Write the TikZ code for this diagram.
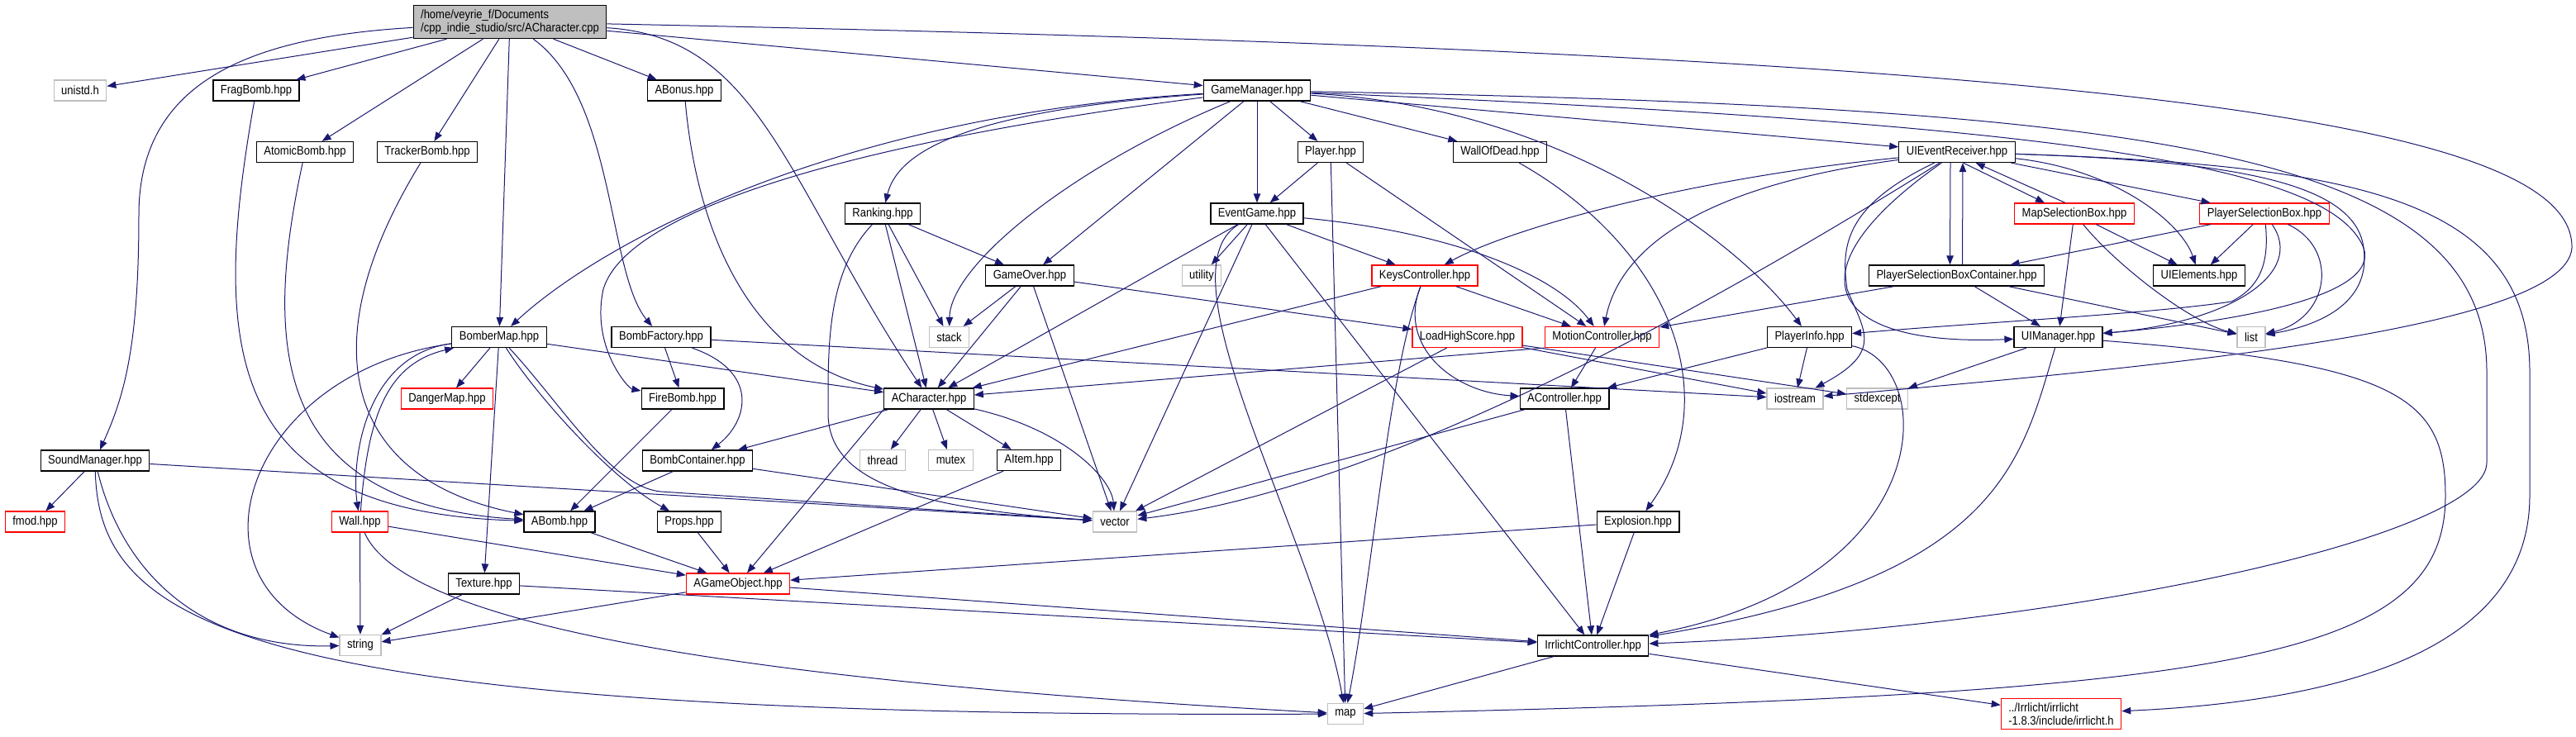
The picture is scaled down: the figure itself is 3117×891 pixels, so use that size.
\documentclass[tikz,border=0pt]{standalone}
\usepackage{fontspec}
\setmainfont{Liberation Sans}[FakeStretch=0.88]
\usepackage{tikz}
\usetikzlibrary{arrows.meta}
\definecolor{dxedge}{HTML}{191970}
\definecolor{dxgray}{HTML}{BFBFBF}

\begin{document}
\begin{tikzpicture}[
	x=0.5pt, y=-0.5pt,
	file/.style={draw=black, fill=white, line width=0.6pt, font=\fontsize{7.4}{8.2}\selectfont, inner xsep=4.5pt, inner ysep=2.5pt, minimum height=12.5pt},
	sys/.style={file, draw=dxgray},
	trunc/.style={file, draw=red},
	main/.style={file, fill=dxgray, align=left},
	arr/.style={-{Triangle[length=5.5pt, width=4.2pt]}, draw=dxedge, line width=0.5pt}
	]
	\useasboundingbox (0,0) rectangle (3117,891);

	\node[main] (cpp) at (617,26.5) {/home/veyrie\_f/Documents\\/cpp\_indie\_studio/src/ACharacter.cpp};
	\node[sys] (unistd) at (97,109.5) {unistd.h};
	\node[file] (frag) at (310,109.5) {FragBomb.hpp};
	\node[file] (bonus) at (828,109.5) {ABonus.hpp};
	\node[file] (gm) at (1521,109.5) {GameManager.hpp};
	\node[file] (atomic) at (369,184) {AtomicBomb.hpp};
	\node[file] (tracker) at (517,184) {TrackerBomb.hpp};
	\node[file] (player) at (1610,184) {Player.hpp};
	\node[file] (wod) at (1815,184) {WallOfDead.hpp};
	\node[file] (uier) at (2368,184) {UIEventReceiver.hpp};
	\node[file] (rank) at (1068,258.5) {Ranking.hpp};
	\node[file] (evg) at (1521,258.5) {EventGame.hpp};
	\node[trunc] (mapsb) at (2510,258.5) {MapSelectionBox.hpp};
	\node[trunc] (plsb) at (2740,258.5) {PlayerSelectionBox.hpp};
	\node[file] (over) at (1246,333.5) {GameOver.hpp};
	\node[sys] (util) at (1454,333.5) {utility};
	\node[trunc] (keys) at (1724,333.5) {KeysController.hpp};
	\node[file] (plsbc) at (2367.5,333.5) {PlayerSelectionBoxContainer.hpp};
	\node[file] (uiel) at (2661,333.5) {UIElements.hpp};
	\node[file] (bmap) at (604,408) {BomberMap.hpp};
	\node[file] (bfact) at (800,408) {BombFactory.hpp};
	\node[sys] (stack) at (1148.5,408) {stack};
	\node[trunc] (lhs) at (1775.5,408) {LoadHighScore.hpp};
	\node[trunc] (motion) at (1938.5,408) {MotionController.hpp};
	\node[file] (pinfo) at (2189.5,408) {PlayerInfo.hpp};
	\node[file] (uim) at (2490.5,408) {UIManager.hpp};
	\node[sys] (list) at (2724,408) {list};
	\node[trunc] (danger) at (541,482.5) {DangerMap.hpp};
	\node[file] (fire) at (826,482.5) {FireBomb.hpp};
	\node[file] (achar) at (1124,482.5) {ACharacter.hpp};
	\node[file] (actrl) at (1893,482.5) {AController.hpp};
	\node[sys] (ios) at (2172,482.5) {iostream};
	\node[sys] (stdex) at (2271.5,482.5) {stdexcept};
	\node[file] (sound) at (115,557.5) {SoundManager.hpp};
	\node[file] (bcont) at (844,557.5) {BombContainer.hpp};
	\node[sys] (thread) at (1068,557) {thread};
	\node[sys] (mutex) at (1150.5,557) {mutex};
	\node[file] (item) at (1245,557) {AItem.hpp};
	\node[trunc] (fmod) at (42.5,631.5) {fmod.hpp};
	\node[trunc] (wall) at (435.5,631.5) {Wall.hpp};
	\node[file] (abomb) at (677,631.5) {ABomb.hpp};
	\node[file] (props) at (834,631.5) {Props.hpp};
	\node[sys] (vector) at (1349,631.5) {vector};
	\node[file] (expl) at (1982,631.5) {Explosion.hpp};
	\node[file] (tex) at (585.5,706.5) {Texture.hpp};
	\node[trunc] (ago) at (893,706.5) {AGameObject.hpp};
	\node[sys] (string) at (436,781) {string};
	\node[file] (irrc) at (1927.5,781.5) {IrrlichtController.hpp};
	\node[sys] (map) at (1628,864) {map};
	\node[trunc, align=left] (irrh) at (2494,864) {../Irrlicht/irrlicht\\-1.8.3/include/irrlicht.h};

	\draw[arr] (cpp) -- (unistd);
	\draw[arr] (cpp) -- (frag);
	\draw[arr] (cpp) -- (atomic);
	\draw[arr] (cpp) -- (tracker);
	\draw[arr] (cpp) -- (bonus);
	\draw[arr] (cpp) -- (gm);
	\draw[arr] (cpp) -- (bmap);
	\draw[arr] (cpp) .. controls (300,45) and (168,100) .. (168,260) .. controls (168,420) and (150,480) .. (sound);
	\draw[arr] (cpp) .. controls (745,120) and (735,330) .. (bfact);
	\draw[arr] (cpp) .. controls (920,45) and (950,220) .. (achar);
	\draw[arr] (cpp) .. controls (2500,65) and (3115,140) .. (3112,300) .. controls (3105,400) and (2600,445) .. (ios);

	\draw[arr] (frag) .. controls (255,420) and (270,620) .. (abomb);
	\draw[arr] (atomic) .. controls (318,420) and (330,610) .. (abomb);
	\draw[arr] (tracker) .. controls (372,420) and (420,580) .. (abomb);
	\draw[arr] (bonus) .. controls (845,300) and (920,440) .. (achar);

	\draw[arr] (gm) .. controls (1000,140) and (720,300) .. (bmap);
	\draw[arr] (gm) .. controls (1050,170) and (760,250) .. (730,350) .. controls (715,420) and (760,470) .. (fire);
	\draw[arr] (gm) .. controls (1150,135) and (1085,190) .. (rank);
	\draw[arr] (gm) .. controls (1300,200) and (1150,320) .. (stack);
	\draw[arr] (gm) -- (over);
	\draw[arr] (gm) -- (evg);
	\draw[arr] (gm) -- (player);
	\draw[arr] (gm) -- (wod);
	\draw[arr] (gm) -- (uier);
	\draw[arr] (gm) .. controls (1900,130) and (2110,300) .. (pinfo);
	\draw[arr] (gm) .. controls (2500,150) and (2820,200) .. (2860,300) .. controls (2880,360) and (2700,390) .. (uim);
	\draw[arr] (gm) .. controls (2600,130) and (3009,180) .. (3009,450) -- (3009,560) .. controls (3009,650) and (2500,760) .. (irrc);

	\draw[arr] (player) -- (evg);
	\draw[arr] (player) -- (map);
	\draw[arr] (player) -- (motion);
	\draw[arr] (wod) .. controls (2020,300) and (2090,480) .. (expl);

	\draw[arr] (uier.-60) -- (mapsb.160);
	\draw[arr] (mapsb.130) -- (uier.-30);
	\draw[arr] (uier) -- (plsb);
	\draw[arr] ([xshift=-4pt]uier.south) -- ([xshift=-4pt]plsbc.north);
	\draw[arr] ([xshift=3.5pt]plsbc.north) -- ([xshift=3.5pt]uier.south);
	\draw[arr] (uier) .. controls (2560,205) and (2640,270) .. (uiel);
	\draw[arr] (uier) .. controls (2050,215) and (1830,275) .. (keys);
	\draw[arr] (uier) .. controls (2060,225) and (1960,300) .. (motion);
	\draw[arr] (uier) .. controls (2230,250) and (2228,300) .. (2235,350) .. controls (2255,400) and (2280,425) .. (ios);
	\draw[arr] (uier) .. controls (2160,330) and (2210,420) .. (uim);
	\draw[arr] (uier) .. controls (2150,320) and (1700,590) .. (vector);
	\draw[arr] (uier) .. controls (2700,195) and (2850,220) .. (2860,300) .. controls (2870,370) and (2800,395) .. (list);
	\draw[arr] (uier) .. controls (2850,200) and (3061,240) .. (3061,450) -- (3061,600) .. controls (3061,800) and (2800,850) .. (irrh);

	\draw[arr] (mapsb) -- (uim);
	\draw[arr] (mapsb) .. controls (2560,320) and (2650,390) .. (list);
	\draw[arr] (mapsb) -- (uiel);
	\draw[arr] (plsb) -- (plsbc);
	\draw[arr] (plsb) -- (uiel);
	\draw[arr] (plsb) .. controls (2745,310) and (2740,345) .. (2700,365) .. controls (2600,380) and (2400,390) .. (pinfo);
	\draw[arr] (plsb) .. controls (2790,330) and (2700,390) .. (uim);
	\draw[arr] (plsb) .. controls (2830,300) and (2820,385) .. (list);
	\draw[arr] (plsbc) -- (uim);
	\draw[arr] (plsbc) -- (list);
	\draw[arr] (plsbc) -- (motion);

	\draw[arr] (evg) -- (util);
	\draw[arr] (evg) -- (keys);
	\draw[arr] (evg) .. controls (1750,280) and (1880,330) .. (motion);
	\draw[arr] (evg) -- (achar);
	\draw[arr] (evg) -- (irrc);
	\draw[arr] (evg) .. controls (1400,330) and (1590,650) .. (map);
	\draw[arr] (evg) -- (vector);

	\draw[arr] (rank) -- (over);
	\draw[arr] (rank) -- (stack);
	\draw[arr] (rank) -- (achar);
	\draw[arr] (rank) .. controls (1000,330) and (1002,420) .. (1002,500) .. controls (1002,580) and (1100,615) .. (vector);
	\draw[arr] (over) -- (stack);
	\draw[arr] (over) -- (achar);
	\draw[arr] (over) -- (vector);
	\draw[arr] (over) -- (lhs);

	\draw[arr] (keys) -- (achar);
	\draw[arr] (keys) -- (motion);
	\draw[arr] (keys) .. controls (1690,420) and (1760,475) .. (actrl);
	\draw[arr] (keys) .. controls (1680,450) and (1660,700) .. (map);
	\draw[arr] (lhs) -- (ios);
	\draw[arr] (lhs) -- (stdex);
	\draw[arr] (lhs) -- (vector);
	\draw[arr] (motion) -- (actrl);
	\draw[arr] (motion.south west) -- (achar);
	\draw[arr] (pinfo) -- (actrl);
	\draw[arr] (pinfo) -- (ios);
	\draw[arr] (pinfo) .. controls (2345,440) and (2350,700) .. (irrc);
	\draw[arr] (actrl) -- (irrc);
	\draw[arr] (actrl) -- (vector);
	\draw[arr] (uim) -- (stdex);
	\draw[arr] (uim) .. controls (2900,440) and (2959,480) .. (2959,600) .. controls (2959,800) and (2700,840) .. (map);
	\draw[arr] (uim) .. controls (2445,560) and (2420,700) .. (irrc);
	\draw[arr] (irrc) -- (map);
	\draw[arr] (irrc) -- (irrh);
	\draw[arr] (expl) -- (ago);
	\draw[arr] (expl) -- (irrc);

	\draw[arr] (bmap) -- (danger);
	\draw[arr] (bmap) -- (achar);
	\draw[arr] (bmap) .. controls (440,430) and (425,560) .. (wall);
	\draw[arr] (wall) .. controls (445,500) and (470,440) .. (bmap);
	\draw[arr] (bmap) -- (tex);
	\draw[arr] (bmap) .. controls (650,480) and (740,580) .. (props);
	\draw[arr] (bmap) .. controls (680,490) and (740,590) .. (800,595) -- (vector);
	\draw[arr] (bmap) .. controls (300,450) and (215,700) .. (string);
	\draw[arr] (bfact) -- (fire);
	\draw[arr] (bfact) .. controls (920,450) and (905,510) .. (bcont);
	\draw[arr] (bfact) -- (ios);

	\draw[arr] (achar) -- (bcont);
	\draw[arr] (achar.south west) -- (ago);
	\draw[arr] (achar) -- (thread);
	\draw[arr] (achar) -- (mutex);
	\draw[arr] (achar) -- (item);
	\draw[arr] (achar) .. controls (1290,520) and (1345,580) .. (vector);

	\draw[arr] (sound) -- (fmod);
	\draw[arr] (sound) .. controls (150,700) and (250,785) .. (string);
	\draw[arr] (sound) .. controls (120,760) and (300,870) .. (map);
	\draw[arr] (sound) -- (vector);
	\draw[arr] (fire) -- (abomb);
	\draw[arr] (bcont) -- (abomb);
	\draw[arr] (bcont) -- (vector);
	\draw[arr] (item) -- (ago);
	\draw[arr] (props) -- (ago);
	\draw[arr] (abomb) -- (ago);
	\draw[arr] (wall) -- (string);
	\draw[arr] (wall) -- (ago);
	\draw[arr] (wall) .. controls (495,770) and (1000,830) .. (map);
	\draw[arr] (tex) -- (string);
	\draw[arr] (tex) -- (irrc);
	\draw[arr] (ago) -- (string);
	\draw[arr] (ago) -- (irrc);
\end{tikzpicture}
\end{document}
